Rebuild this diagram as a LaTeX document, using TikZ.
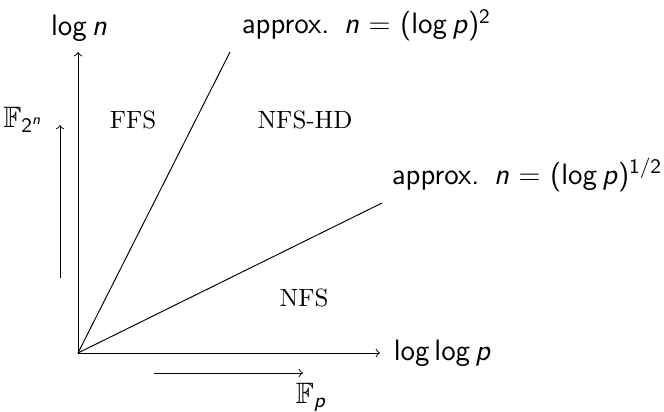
\documentclass[tikz,border=0pt]{standalone}
\usepackage{amsmath,amssymb}
\usepackage{fontspec}
\begin{document}
\begin{tikzpicture}[x=0.4167pt,y=-0.4167pt,
  sanslab/.style={font=\sffamily\fontsize{12.3}{15}\selectfont, inner sep=1pt},
  region/.style={font=\rmfamily\fontsize{10.4}{12}\selectfont, inner sep=1pt},
  axis/.style={->, line width=0.4pt}]
\useasboundingbox (0,0) rectangle (664,412);
\coordinate (O) at (78,353);
\coordinate (ytip) at (78,52);
\coordinate (xtip) at (380,353);
\coordinate (l1) at (230,52);
\coordinate (l2) at (382,203);
\coordinate (fa) at (60,278);
\coordinate (fb) at (60,125);
\coordinate (pa) at (154,373);
\coordinate (pb) at (303,373);
\draw[axis] (O) -- (ytip);
\draw[axis] (O) -- (xtip);
\draw (O) -- (l1);
\draw (O) -- (l2);
\draw[axis] (fa) -- (fb);
\draw[axis] (pa) -- (pb);
\node[sanslab] (ylab) at (79,28) {log\,\textit{n}};
\node[sanslab, anchor=west] (xlab) at (391,353) {log\,log\,\textit{p}};
\node[sanslab, anchor=west] (c2) at (239,25) {approx.\enspace\textit{n} $=$ (log\,\textit{p})\textsuperscript{2}};
\node[sanslab, anchor=west] (c12) at (389,175) {approx.\enspace\textit{n} $=$ (log\,\textit{p})\textsuperscript{1/2}};
\node[sanslab] (f2n) at (23,120) {$\mathbb{F}_{\text{\sffamily 2}^{\text{\sffamily\itshape n}}}$};
\node[sanslab, anchor=west] (fp) at (293,397) {$\mathbb{F}_{\text{\sffamily\itshape p}}$};
\node[region] (ffs) at (133,120) {FFS};
\node[region] (nfshd) at (305,120) {NFS-HD};
\node[region] (nfs) at (304,298) {NFS};
\end{tikzpicture}
\end{document}
